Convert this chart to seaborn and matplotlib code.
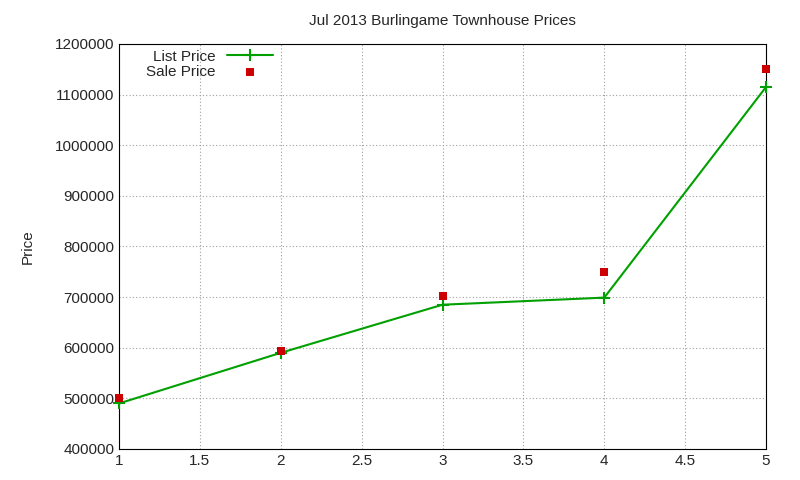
import matplotlib
matplotlib.use("Agg")
import matplotlib.pyplot as plt
import seaborn as sns
import pandas as pd

x = [1, 2, 3, 4, 5]
list_price = [490000, 590000, 685000, 699000, 1115000]
sale_price = [500000, 594000, 702000, 750000, 1150000]

sns.set_style("white")
plt.rcParams['font.family'] = ['Liberation Sans', 'DejaVu Sans']
fig = plt.figure(figsize=(8, 4.8), dpi=100)
ax = fig.add_axes([119/800, 1-449/480, (766-119)/800, (449-44)/480])
df = pd.DataFrame({"x": x, "list": list_price, "sale": sale_price})
sns.lineplot(data=df, x="x", y="list", ax=ax, color="#00a000", marker="+",
             markersize=9, markeredgewidth=1.5, markeredgecolor="#00a000",
             linewidth=1.5, label="List Price", clip_on=False, zorder=3)
sns.scatterplot(data=df, x="x", y="sale", ax=ax, color="#cc0000", marker="s",
                s=36, edgecolor="#cc0000", linewidth=0, label="Sale Price",
                clip_on=False, zorder=4)
ax.set_xlim(1, 5)
ax.set_ylim(400000, 1200000)
ax.set_xticks([1, 1.5, 2, 2.5, 3, 3.5, 4, 4.5, 5])
ax.set_xticklabels(["1", "1.5", "2", "2.5", "3", "3.5", "4", "4.5", "5"])
ax.set_yticks(range(400000, 1200001, 100000))
ax.ticklabel_format(axis="y", style="plain", useOffset=False)
ax.grid(True, color="#a0a0a0", linestyle=(0, (1, 2)), linewidth=0.8)
for s in ax.spines.values():
    s.set_color("black"); s.set_linewidth(0.8)
ax.tick_params(labelsize=11, direction="in", length=5, color="black")
ax.set_xlabel("")
ax.set_ylabel("Price", fontsize=11, labelpad=14)
ax.set_title("Jul 2013 Burlingame Townhouse Prices", fontsize=11, pad=14)
leg = ax.legend(loc="upper left", frameon=False, fontsize=11, markerfirst=False,
                bbox_to_anchor=(0.02, 1.02), handlelength=3, labelspacing=0.1)
plt.savefig("out.png", dpi=100)
